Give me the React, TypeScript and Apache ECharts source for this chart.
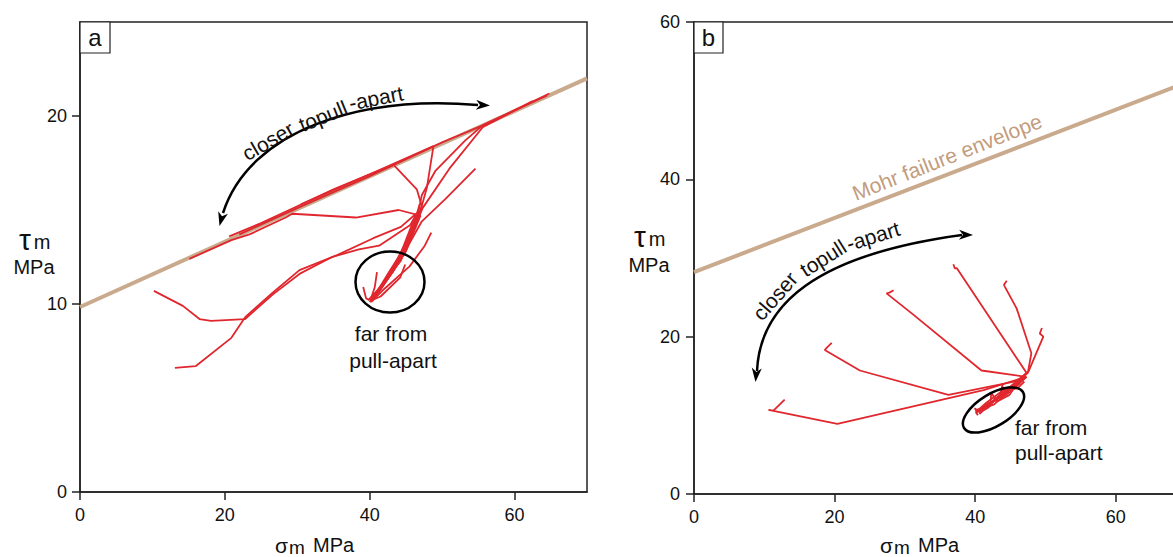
import React, { useEffect, useRef } from "react";
import * as echarts from "echarts";

// ---------- data ----------
const xTicks = [0, 20, 40, 60];
const yTicksA = [0, 10, 20];
const yTicksB = [0, 20, 40, 60];

// Mohr failure envelopes [sigma_m, tau_m]
const envelopeA = [[0, 9.84], [70, 22.0]];
const envelopeB = [[0, 28.2], [70, 52.3]];

// Panel a traces
const aTrace1 = [[10.2, 10.7], [14.2, 9.9], [16.5, 9.2], [18.1, 9.1], [22.8, 9.2], [26.6, 10.5], [30.3, 11.6], [34.8, 12.5], [38.5, 12.9], [41.3, 13.1], [45.6, 14.2], [46.8, 15.0], [44.8, 13.0], [42.5, 11.6], [40.3, 10.2]];
const aTrace2 = [[13.1, 6.6], [16.0, 6.7], [20.9, 8.2], [22.8, 9.3], [26.6, 10.6], [30.3, 11.8], [35.5, 12.6], [40.5, 13.5], [44.3, 14.1], [46.4, 14.8], [44.0, 12.4], [41.8, 11.0], [40.0, 10.1]];
const aTrace3 = [[15.1, 12.4], [20.9, 13.4], [23.4, 13.7], [28.4, 14.6], [29.3, 14.8], [38.1, 14.6], [44.0, 15.0], [47.0, 14.7], [45.0, 12.8], [42.8, 11.5], [40.6, 10.3]];
const aTrace4 = [[20.6, 13.6], [25.0, 14.3], [30.0, 15.2], [35.0, 16.1], [40.0, 16.9], [43.3, 17.4], [46.5, 16.1], [47.2, 15.2], [45.3, 13.3], [43.0, 11.7], [40.4, 10.4]];
const aTrace5 = [[30.5, 15.3], [40.0, 16.9], [48.8, 18.4], [47.9, 16.2], [47.1, 15.1], [44.8, 12.7], [40.8, 10.5]];
const aTrace6 = [[64.5, 21.1], [60.0, 20.3], [55.6, 19.5], [53.2, 18.7], [49.1, 17.1], [47.2, 15.8], [46.5, 14.5], [44.3, 12.3], [40.1, 10.2]];
const aTrace7 = [[62.5, 20.8], [55.6, 19.4], [51.0, 17.2], [47.3, 15.1], [45.5, 13.4], [42.0, 11.1], [39.8, 10.2]];
const aTrace8 = [[54.6, 17.2], [50.5, 15.6], [47.2, 14.4], [45.0, 12.9], [43.2, 11.7], [40.5, 10.3]];
const aTrace9 = [[48.5, 13.8], [47.6, 13.1], [45.5, 12.0], [42.0, 10.8], [40.2, 10.1]];
const aTrace10 = [[44.9, 12.1], [44.2, 11.4], [41.5, 10.4], [40.3, 10.2]];
const aTrace11 = [[39.1, 10.9], [39.5, 10.3], [40.0, 10.2]];
const aTrace12 = [[41.0, 11.7], [40.7, 10.9], [40.2, 10.3]];
const aTrace13 = [[22.0, 13.7], [30.0, 15.1], [40.0, 16.8], [50.0, 18.6], [55.6, 19.5], [60.0, 20.3], [64.8, 21.2]];
const aTrace14 = [[46.9, 15.3], [45.8, 13.9], [44.1, 12.6], [42.6, 11.4], [41.2, 10.6], [40.4, 10.5]];

// Panel b traces
const bTrace1 = [[12.9, 12.0], [11.3, 10.6], [10.6, 10.7], [20.4, 8.9], [41.2, 13.2], [47.3, 14.9], [45.5, 13.6], [43.0, 12.0], [40.3, 10.4]];
const bTrace2 = [[19.6, 19.2], [18.9, 18.6], [18.6, 18.3], [23.6, 15.7], [36.2, 12.6], [46.8, 14.5], [47.3, 14.9], [44.5, 13.0], [41.0, 10.8]];
const bTrace3 = [[28.4, 25.9], [27.8, 25.6], [27.4, 25.5], [31.2, 22.8], [40.9, 15.7], [47.2, 14.9], [44.0, 12.6], [40.5, 10.5]];
const bTrace4 = [[36.9, 29.2], [37.1, 28.7], [37.4, 28.7], [47.3, 15.4], [46.0, 14.2], [42.5, 11.8], [40.6, 10.2]];
const bTrace5 = [[44.5, 27.1], [44.1, 26.6], [44.2, 26.4], [45.9, 23.6], [48.0, 17.9], [47.5, 15.4], [45.2, 13.6], [41.5, 11.0]];
const bTrace6 = [[49.5, 21.1], [49.2, 20.4], [49.7, 20.0], [48.7, 17.9], [47.6, 15.6], [46.0, 14.4], [44.0, 12.9], [42.0, 11.3], [40.2, 10.4]];
const bCluster1 = [[47.2, 14.8], [46.2, 14.0], [45.1, 13.5], [44.6, 12.9], [43.8, 12.8], [43.9, 13.9], [43.5, 12.5], [42.8, 12.1], [42.3, 12.9], [42.2, 11.7], [41.4, 11.3], [40.8, 10.9], [40.1, 10.4], [40.4, 10.0]];
const bCluster2 = [[46.6, 14.6], [45.5, 13.8], [44.0, 13.2], [42.8, 12.4], [41.6, 11.6], [40.6, 10.8], [40.0, 10.6]];
const bCluster3 = [[47.0, 14.3], [46.1, 13.5], [45.4, 13.3], [44.9, 12.6], [43.2, 11.8], [42.6, 11.9], [41.9, 11.0], [41.1, 10.6], [40.6, 10.2]];
const bCluster4 = [[46.4, 14.1], [45.0, 13.0], [43.6, 12.1], [42.7, 11.4], [41.3, 10.9], [40.2, 10.7], [39.9, 10.9]];

const tracesA = [aTrace1, aTrace2, aTrace3, aTrace4, aTrace5, aTrace6, aTrace7, aTrace8, aTrace9, aTrace10, aTrace11, aTrace12, aTrace13, aTrace14];
const tracesB = [bTrace1, bTrace2, bTrace3, bTrace4, bTrace5, bTrace6, bCluster1, bCluster2, bCluster3, bCluster4];

// ---------- styles ----------
const RED = "#e0272e";
const TAN = "#c9aa8d";
const TAN_TEXT = "#c29c7d";
const FONT = "'Liberation Sans', Arial, Helvetica, sans-serif";
const AXIS = "#222";

function arrowHead(tx: number, ty: number, fx: number, fy: number) {
  const dx = fx - tx, dy = fy - ty;
  const L = Math.hypot(dx, dy);
  const ux = dx / L, uy = dy / L;
  const px = -uy, py = ux;
  const bx = tx + ux * 14, by = ty + uy * 14;
  const nx = tx + ux * 10, ny = ty + uy * 10;
  return {
    type: "polygon",
    shape: { points: [[tx, ty], [bx + px * 5, by + py * 5], [nx, ny], [bx - px * 5, by - py * 5]] },
    style: { fill: "#000" },
    z: 20,
  };
}

function txt(x: number, y: number, text: string, size: number, opts: any = {}) {
  return {
    type: "text",
    x,
    y,
    rotation: opts.rotation || 0,
    style: {
      text,
      fontSize: size,
      fontFamily: FONT,
      fill: opts.fill || "#111",
      align: opts.align || "center",
      verticalAlign: "middle",
    },
    z: 20,
  };
}

const deg = (d: number) => (d * Math.PI) / 180;

function axisPair(gridIndex: number, min: number, max: number, ticks: number[], margin: number) {
  return {
    gridIndex,
    type: "value",
    min,
    max,
    axisLine: { show: true, onZero: false, lineStyle: { color: AXIS, width: 1.5 } },
    axisTick: { show: true, length: 8, customValues: ticks, lineStyle: { color: AXIS, width: 1.5 } },
    axisLabel: { customValues: ticks, fontSize: 18, fontFamily: FONT, color: "#111", margin },
    splitLine: { show: false },
  };
}

export default function App() {
  const ref = useRef<HTMLDivElement>(null);
  useEffect(() => {
    if (!ref.current) return;
    const chart = echarts.init(ref.current, undefined, { renderer: "svg" });

    const series: any[] = [];
    series.push({
      type: "line", xAxisIndex: 0, yAxisIndex: 0, data: envelopeA, symbol: "none",
      lineStyle: { color: TAN, width: 4 }, z: 2, silent: true,
    });
    series.push({
      type: "line", xAxisIndex: 1, yAxisIndex: 1, data: envelopeB, symbol: "none",
      lineStyle: { color: TAN, width: 4 }, z: 2, silent: true,
    });
    tracesA.forEach((t) =>
      series.push({
        type: "line", xAxisIndex: 0, yAxisIndex: 0, data: t, symbol: "none",
        lineStyle: { color: RED, width: 1.8 }, z: 3, silent: true,
      })
    );
    tracesB.forEach((t) =>
      series.push({
        type: "line", xAxisIndex: 1, yAxisIndex: 1, data: t, symbol: "none",
        lineStyle: { color: RED, width: 1.8 }, z: 3, silent: true,
      })
    );

    const graphic: any[] = [
      // panel labels
      { type: "rect", shape: { x: 80, y: 22, width: 30, height: 31 }, style: { fill: "#fff", stroke: AXIS, lineWidth: 1.2 }, z: 19 },
      txt(95, 37, "a", 24),
      { type: "rect", shape: { x: 694, y: 22, width: 29, height: 31 }, style: { fill: "#fff", stroke: AXIS, lineWidth: 1.2 }, z: 19 },
      txt(708.5, 37, "b", 24),
      // y axis names
      txt(25, 239, "τ", 30),
      txt(42, 242, "m", 20),
      txt(34, 266.5, "MPa", 20),
      txt(640, 236, "τ", 30),
      txt(657, 239, "m", 20),
      txt(649, 265, "MPa", 20),
      // x axis names
      txt(275, 545, "σ", 21, { align: "left" }),
      txt(289, 547, "m", 19, { align: "left" }),
      txt(313, 545, "MPa", 20, { align: "left" }),
      txt(880, 545, "σ", 21, { align: "left" }),
      txt(894, 547, "m", 19, { align: "left" }),
      txt(918, 545, "MPa", 20, { align: "left" }),
      // panel a annotations
      { type: "bezierCurve", shape: { x1: 223, y1: 213, cpx1: 250, cpy1: 130, cpx2: 360, cpy2: 95, x2: 478, y2: 105 }, style: { stroke: "#000", lineWidth: 2.5, fill: null }, z: 20 },
      arrowHead(219.5, 226, 225, 205),
      arrowHead(490, 105.5, 470, 104.5),
      txt(268, 141, "closer", 21, { rotation: deg(30) }),
      txt(323, 116, "topull", 21, { rotation: deg(22) }),
      txt(376, 98, "-apart", 21, { rotation: deg(11) }),
      { type: "ellipse", x: 390, y: 282, shape: { cx: 0, cy: 0, rx: 34.5, ry: 30.5 }, style: { fill: null, stroke: "#000", lineWidth: 2.5 }, z: 20 },
      txt(391, 333, "far from", 21),
      txt(393, 360, "pull-apart", 21),
      // panel b annotations
      { type: "bezierCurve", shape: { x1: 757, y1: 371, cpx1: 760, cpy1: 305, cpx2: 815, cpy2: 255, x2: 962, y2: 235 }, style: { stroke: "#000", lineWidth: 2.5, fill: null }, z: 20 },
      arrowHead(755.5, 382, 757.5, 360),
      arrowHead(973, 235, 953, 234.5),
      txt(775, 296, "closer", 21, { rotation: deg(49) }),
      txt(823, 258, "topull", 21, { rotation: deg(32) }),
      txt(873, 236, "-apart", 21, { rotation: deg(17) }),
      txt(947, 157, "Mohr failure envelope", 21, { rotation: deg(21.5), fill: TAN_TEXT }),
      { type: "ellipse", x: 993.5, y: 410, rotation: deg(31.5), shape: { cx: 0, cy: 0, rx: 34.5, ry: 16 }, style: { fill: null, stroke: "#000", lineWidth: 2.5 }, z: 20 },
      txt(1015, 427, "far from", 21, { align: "left" }),
      txt(1015, 452, "pull-apart", 21, { align: "left" }),
    ];

    chart.setOption({
      animation: false,
      backgroundColor: "#fff",
      grid: [
        { left: 80, top: 22, width: 507, height: 470, show: true, borderColor: AXIS, borderWidth: 1.5, containLabel: false, outerBoundsMode: "none" },
        { left: 694, top: 22, width: 492, height: 472, show: true, borderColor: AXIS, borderWidth: 1.5, containLabel: false, outerBoundsMode: "none" },
      ],
      xAxis: [axisPair(0, 0, 70, xTicks, 14), axisPair(1, 0, 70, xTicks, 14)],
      yAxis: [axisPair(0, 0, 25, yTicksA, 13), axisPair(1, 0, 60, yTicksB, 14)],
      series,
      graphic,
    });
    return () => chart.dispose();
  }, []);
  return (
    <div
      ref={ref}
      style={{ position: "fixed", left: 0, top: 0, width: 1173, height: 557, background: "#fff" }}
    />
  );
}
